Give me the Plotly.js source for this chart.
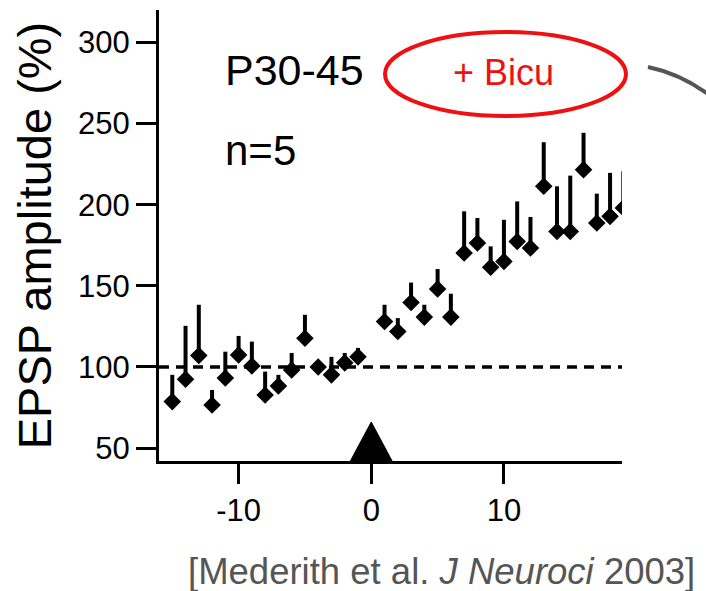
<!DOCTYPE html>
<html>
<head>
<meta charset="utf-8">
<script src="https://cdn.plot.ly/plotly-3.0.1.min.js"></script>
<style>
  html, body { margin: 0; padding: 0; background: #fff; }
  #chart { width: 706px; height: 591px; }
</style>
</head>
<body>
<div id="chart"></div>
<script>
// ---- data ----
const timeMin = [-15, -14, -13, -12, -11, -10, -9, -8, -7, -6, -5, -4, -3, -2, -1,
                 1, 2, 3, 4, 5, 6, 7, 8, 9, 10, 11, 12, 13, 14, 15, 16, 17, 18, 19];
const epspAmp = [78.6, 92.4, 107.0, 76.5, 93.2, 107.4, 100.6, 82.7, 88.3, 98.1, 117.7, 100.0, 95.1, 102.5, 106.2,
                 128.0, 121.8, 139.7, 130.7, 148.0, 130.7, 170.2, 176.4, 161.4, 165.0, 177.3, 173.3, 211.3, 183.5, 183.5, 221.6, 188.7, 192.8, 198.0];
const epspSem = [16.5, 32.9, 31.3, 9.3, 16.2, 11.7, 15.0, 14.4, 6.8, 10.5, 14.4, 3.0, 11.1, 6.1, 5.5,
                 10.3, 8.3, 12.3, 7.6, 12.3, 14.4, 25.7, 15.4, 12.9, 25.7, 24.7, 19.1, 27.2, 27.8, 34.4, 22.7, 18.1, 26.8, 22.6];
const baseline = 100;
const stimTime = 0;
const yTickVals = [50, 100, 150, 200, 250, 300];
const xTickVals = [-10, 0, 10, 20];
const xTickText = ['-10', '0', '10', '20'];
const yTitle = 'EPSP amplitude (%)';
const ageLabel = 'P30-45';
const nLabel = 'n=5';
const drugLabel = '+ Bicu';
const citation = '[Mederith et al. <i>J Neuroci</i> 2003]';

// ---- layout geometry (pixels) ----
const W = 706, H = 591;
const M = { l: 159, r: 84, t: 10, b: 130 };
const pw = W - M.l - M.r, ph = H - M.t - M.b;
const px = x => (x - M.l) / pw;
const py = y => (H - M.b - y) / ph;
const FONT = '"Liberation Sans", Arial, Helvetica, sans-serif';

const trace = {
  type: 'scatter',
  mode: 'markers',
  x: timeMin,
  y: epspAmp,
  marker: { symbol: 'diamond', size: 13.5, color: '#000', line: { width: 0 } },
  error_y: {
    type: 'data', symmetric: false,
    array: epspSem,
    arrayminus: epspSem.map(() => 0),
    color: '#000', thickness: 4, width: 0
  },
  hoverinfo: 'x+y',
  showlegend: false
};

const arcPath = 'M' + px(648) + ',' + py(67) + ' Q' + px(682) + ',' + py(74) + ' ' + px(712) + ',' + py(97);

const layout = {
  width: W, height: H,
  margin: M,
  paper_bgcolor: '#fff', plot_bgcolor: '#fff',
  font: { family: FONT, color: '#000' },
  showlegend: false,
  xaxis: {
    range: [-16, 18.9],
    showgrid: false, zeroline: false,
    showline: true, linewidth: 3, linecolor: '#000',
    ticks: 'outside', ticklen: 20, tickwidth: 3, tickcolor: '#000',
    tickvals: xTickVals, ticktext: xTickText,
    tickfont: { size: 31, family: FONT, color: '#000' },
    automargin: false
  },
  yaxis: {
    range: [42, 320],
    showgrid: false, zeroline: false,
    showline: true, linewidth: 3, linecolor: '#000',
    ticks: 'outside', ticklen: 20, tickwidth: 3, tickcolor: '#000',
    tickvals: yTickVals,
    tickfont: { size: 31, family: FONT, color: '#000' },
    title: { text: yTitle, font: { size: 47, family: FONT, color: '#000' }, standoff: 12 },
    automargin: false
  },
  shapes: [
    { type: 'line', xref: 'paper', x0: 0, x1: 1, yref: 'y', y0: baseline, y1: baseline,
      line: { color: '#000', width: 3.5, dash: '10px,7px' }, layer: 'below' },
    { type: 'path', xref: 'x', xsizemode: 'pixel', xanchor: stimTime,
      yref: 'y', ysizemode: 'pixel', yanchor: 42,
      path: 'M-23,-4 L23,-4 L0,39 Z',
      fillcolor: '#000', line: { color: '#000', width: 1 } },
    { type: 'circle', xref: 'paper', yref: 'paper',
      x0: px(385), x1: px(626), y0: py(116), y1: py(32),
      line: { color: '#ee1111', width: 4 }, fillcolor: 'rgba(0,0,0,0)' },
    { type: 'path', xref: 'paper', yref: 'paper', path: arcPath,
      line: { color: '#555', width: 4 } }
  ],
  annotations: [
    { text: ageLabel, xref: 'paper', yref: 'paper', x: px(223), y: py(70),
      xanchor: 'left', yanchor: 'middle', showarrow: false,
      font: { size: 43, family: FONT, color: '#000' } },
    { text: nLabel, xref: 'paper', yref: 'paper', x: px(223), y: py(150),
      xanchor: 'left', yanchor: 'middle', showarrow: false,
      font: { size: 42, family: FONT, color: '#000' } },
    { text: drugLabel, xref: 'paper', yref: 'paper', x: px(503), y: py(73),
      xanchor: 'center', yanchor: 'middle', showarrow: false,
      font: { size: 36, family: FONT, color: '#ee1111' } },
    { text: citation, xref: 'paper', yref: 'paper', x: px(697), y: py(571),
      xanchor: 'right', yanchor: 'middle', showarrow: false,
      font: { size: 36.5, family: FONT, color: '#555' } }
  ]
};

Plotly.newPlot('chart', [trace], layout, { displayModeBar: false, staticPlot: true });
</script>
</body>
</html>
